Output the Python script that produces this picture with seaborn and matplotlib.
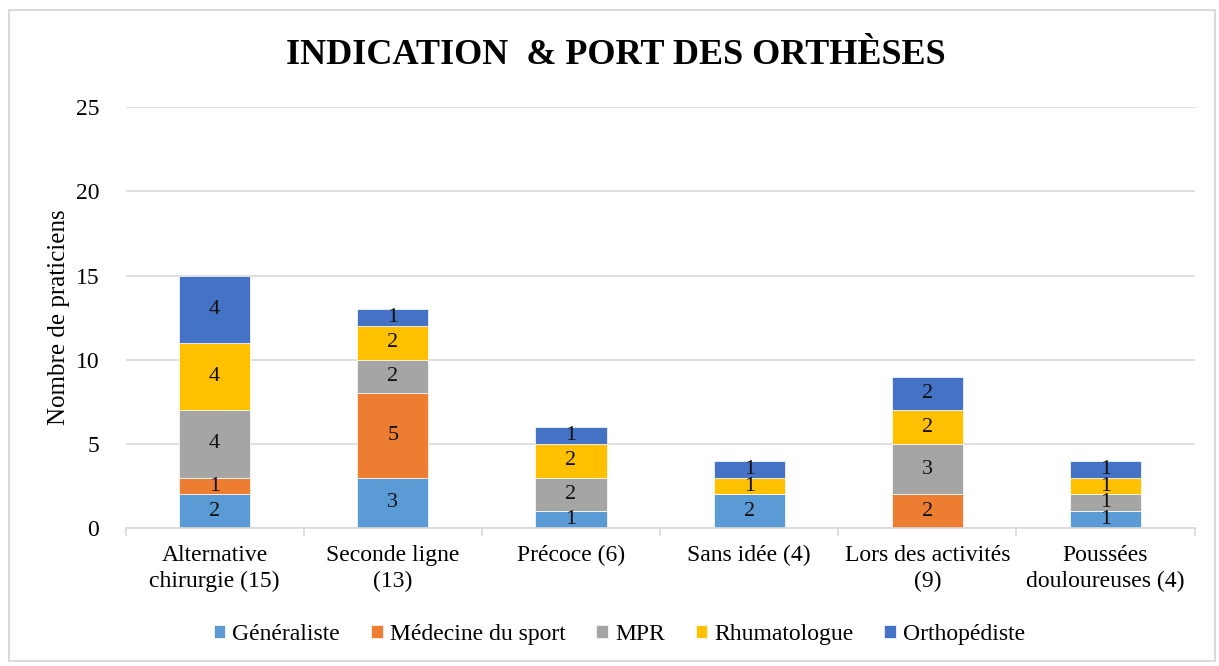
import numpy as np
import matplotlib.pyplot as plt
import seaborn as sns
from matplotlib.patches import Rectangle

# Données
categories = ['Alternative\nchirurgie (15)', 'Seconde ligne\n(13)', 'Précoce (6)',
              'Sans idée (4)', 'Lors des activités\n(9)', 'Poussées\ndouloureuses (4)']
specialites = ['Généraliste', 'Médecine du sport', 'MPR', 'Rhumatologue', 'Orthopédiste']
generaliste = [2, 3, 1, 2, 0, 1]
medecine_sport = [1, 5, 0, 0, 2, 0]
mpr = [4, 2, 2, 0, 3, 1]
rhumatologue = [4, 2, 2, 1, 2, 1]
orthopediste = [4, 1, 1, 1, 2, 1]
couleurs = ['#5B9BD5', '#ED7D31', '#A5A5A5', '#FFC000', '#4472C4']

sns.set_theme(style='white')
plt.rcParams['font.family'] = ['Liberation Serif', 'DejaVu Serif']
plt.rcParams['text.color'] = 'black'
plt.rcParams['xtick.color'] = 'black'
plt.rcParams['ytick.color'] = 'black'
plt.rcParams['axes.labelcolor'] = 'black'

fig = plt.figure(figsize=(12.19, 6.66), dpi=100)
ax = fig.add_axes([0.103, 0.207, 0.877, 0.632])

series = [generaliste, medecine_sport, mpr, rhumatologue, orthopediste]
bottom = np.zeros(len(categories))
for nom, vals, col in zip(specialites, series, couleurs):
    sns.barplot(x=categories, y=vals, bottom=bottom, color=col, width=0.4,
                label=nom, ax=ax, saturation=1, edgecolor='white', linewidth=0.5)
    cont = ax.containers[-1]
    labels = [str(v) if v > 0 else '' for v in vals]
    ax.bar_label(cont, labels=labels, label_type='center', fontsize=16, color='#111111')
    bottom = bottom + np.array(vals)

ax.set_ylim(0, 25)
ax.set_xlim(-0.5, len(categories) - 0.5)
ax.set_yticks(range(0, 26, 5))
ax.yaxis.grid(True, color='#d9d9d9', linewidth=1.2)
ax.set_axisbelow(True)
for s in ['top', 'right', 'left']:
    ax.spines[s].set_visible(False)
ax.spines['bottom'].set_color('#d9d9d9')
ax.spines['bottom'].set_linewidth(1.2)

# petites graduations entre les catégories
ax.set_xticks(np.arange(-0.5, len(categories), 1), minor=True)
ax.tick_params(axis='x', which='minor', length=6, color='#d9d9d9', width=1.2, bottom=True)
ax.tick_params(axis='x', which='major', length=0, labelsize=17, pad=12)
for t in ax.get_xticklabels():
    t.set_linespacing(1.3)
ax.tick_params(axis='y', length=0, labelsize=17, pad=19)
ax.set_ylabel('Nombre de praticiens', fontsize=18)
ax.yaxis.set_label_coords(-0.052, 0.5)
ax.set_xlabel('')

fig.text(0.505, 0.917, 'INDICATION  & PORT DES ORTHÈSES', fontsize=26,
         fontweight='bold', ha='center', va='center')

ax.legend(loc='center', bbox_to_anchor=(0.462, -0.252), ncol=5, frameon=False,
          fontsize=17, handlelength=0.5, handleheight=0.5, handletextpad=0.3,
          columnspacing=1.3)

fig.patches.append(Rectangle((0.007, 0.008), 0.99, 0.977, transform=fig.transFigure,
                             fill=False, edgecolor='#d9d9d9', linewidth=1.5))

fig.savefig('out.png', dpi=100)
